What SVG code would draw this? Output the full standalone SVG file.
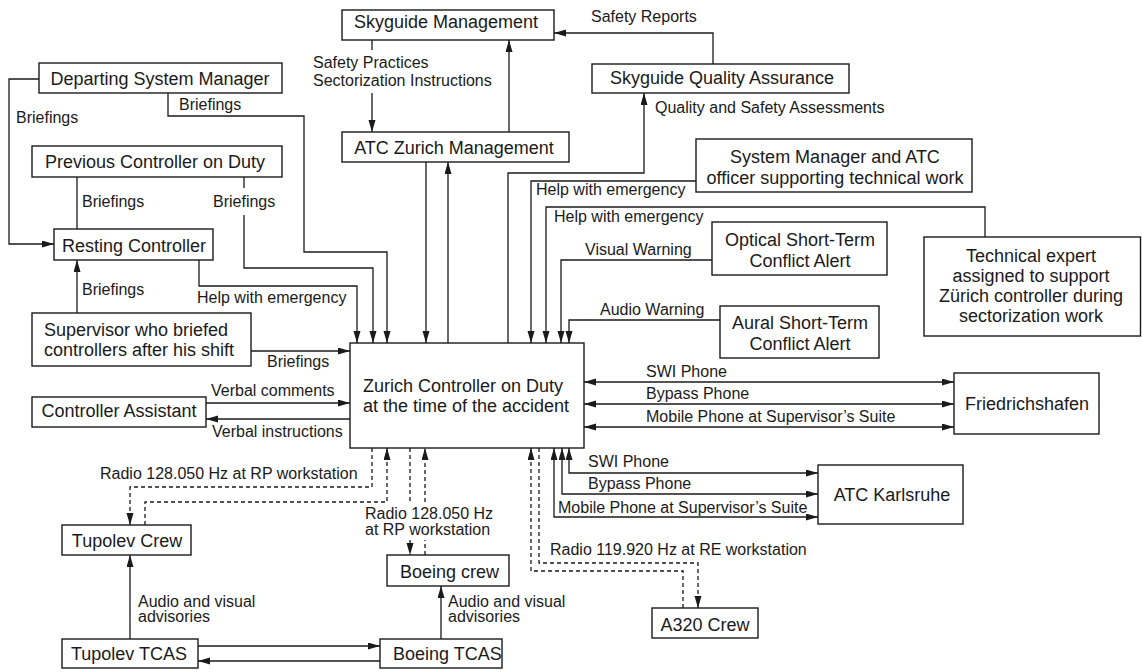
<svg xmlns="http://www.w3.org/2000/svg" width="1142" height="672" viewBox="0 0 1142 672">
<style>
.box{fill:#fff;stroke:#1a1a1a;stroke-width:1.4}
.nt{font-family:"Liberation Sans",Arial,sans-serif;font-size:18px;fill:#1a1a1a}
.lb{font-family:"Liberation Sans",Arial,sans-serif;font-size:16px;fill:#1a1a1a}
.c{text-anchor:middle}
.ln{fill:none;stroke:#1a1a1a;stroke-width:1.3}
.dash{stroke-dasharray:4 3}
.a{marker-end:url(#ah)}
.b{marker-start:url(#ah);marker-end:url(#ah)}
</style>
<defs>
<marker id="ah" markerUnits="userSpaceOnUse" markerWidth="13" markerHeight="8" refX="12" refY="3.5" orient="auto-start-reverse">
<path d="M0,0 L12,3.5 L0,7 z" fill="#1a1a1a"/>
</marker>
</defs>
<rect width="1142" height="672" fill="#fff"/>

<g id="connectors">
<path class="ln a" d="M39,79 H9 V244 H54"/>
<path class="ln a" d="M168,93 V116 H304 V252 H387 V343"/>
<path class="ln" d="M77,177 V229"/>
<path class="ln" d="M244,177 V188"/>
<path class="ln a" d="M244,215 V268 H373 V343"/>
<path class="ln a" d="M199,260 V286 H357 V343"/>
<path class="ln a" d="M77,313 V260"/>
<path class="ln a" d="M251,351 H350"/>
<path class="ln a" d="M206,403 H350"/>
<path class="ln a" d="M350,419 H206"/>
<path class="ln" d="M372,40 V50"/>
<path class="ln a" d="M372,93 V132"/>
<path class="ln a" d="M509,132 V40"/>
<path class="ln a" d="M426,162 V343"/>
<path class="ln a" d="M448,343 V162"/>
<path class="ln a" d="M508,343 V173 H644 V93"/>
<path class="ln a" d="M713,64 V33 H554"/>
<path class="ln a" d="M696,181 H531 V343"/>
<path class="ln a" d="M985,238 V207 H546 V343"/>
<path class="ln a" d="M712,260 H561 V343"/>
<path class="ln a" d="M720,320 H569 V343"/>
<path class="ln b" d="M584,382 H954"/>
<path class="ln b" d="M584,404 H954"/>
<path class="ln b" d="M584,427 H954"/>
<path class="ln b" d="M569,448 V473 H818"/>
<path class="ln b" d="M562,448 V494 H818"/>
<path class="ln b" d="M554,448 V517 H818"/>
<path class="ln dash a" d="M372,448 V487 H130 V525"/>
<path class="ln dash a" d="M145,525 V502 H387 V448"/>
<path class="ln dash" d="M410,448 V502"/>
<path class="ln dash a" d="M410,540 V555"/>
<path class="ln dash" d="M425,555 V540"/>
<path class="ln dash a" d="M425,502 V448"/>
<path class="ln dash a" d="M683,608 V571 H531 V448"/>
<path class="ln dash a" d="M539,448 V563 H698 V608"/>
<path class="ln a" d="M130,639 V555"/>
<path class="ln a" d="M441,639 V586"/>
<path class="ln a" d="M198,646 H380"/>
<path class="ln a" d="M380,661 H198"/>
</g>

<g id="labels">
<text class="lb" x="16" y="123">Briefings</text>
<text class="lb" x="179" y="110">Briefings</text>
<text class="lb" x="82" y="207">Briefings</text>
<text class="lb" x="213" y="207">Briefings</text>
<text class="lb" x="197" y="303">Help with emergency</text>
<text class="lb" x="82" y="295">Briefings</text>
<text class="lb" x="267" y="367">Briefings</text>
<text class="lb" x="211" y="396">Verbal comments</text>
<text class="lb" x="212" y="437">Verbal instructions</text>
<text class="lb" x="313" y="68">Safety Practices</text>
<text class="lb" x="313" y="86">Sectorization Instructions</text>
<text class="lb" x="591" y="22">Safety Reports</text>
<text class="lb" x="655" y="113">Quality and Safety Assessments</text>
<text class="lb" x="536" y="195">Help with emergency</text>
<text class="lb" x="554" y="222">Help with emergency</text>
<text class="lb" x="585" y="255">Visual Warning</text>
<text class="lb" x="600" y="315">Audio Warning</text>
<text class="lb" x="646" y="377">SWI Phone</text>
<text class="lb" x="646" y="399">Bypass Phone</text>
<text class="lb" x="646" y="422">Mobile Phone at Supervisor’s Suite</text>
<text class="lb" x="588" y="467">SWI Phone</text>
<text class="lb" x="588" y="489">Bypass Phone</text>
<text class="lb" x="558" y="513">Mobile Phone at Supervisor’s Suite</text>
<text class="lb" x="100" y="479">Radio 128.050 Hz at RP workstation</text>
<text class="lb" x="365" y="519">Radio 128.050 Hz</text>
<text class="lb" x="365" y="535">at RP workstation</text>
<text class="lb" x="550" y="555">Radio 119.920 Hz at RE workstation</text>
<text class="lb" x="138" y="607">Audio and visual</text>
<text class="lb" x="138" y="622">advisories</text>
<text class="lb" x="448" y="607">Audio and visual</text>
<text class="lb" x="448" y="622">advisories</text>
</g>

<g id="skyguide-management"><rect class="box" x="342" y="10" width="212" height="30"/><text class="nt c" x="446" y="28">Skyguide Management</text></g>
<g id="skyguide-qa"><rect class="box" x="592" y="64" width="257" height="29"/><text class="nt c" x="722" y="84">Skyguide Quality Assurance</text></g>
<g id="atc-zurich-management"><rect class="box" x="342" y="132" width="227" height="30"/><text class="nt c" x="454" y="154">ATC Zurich Management</text></g>
<g id="departing-system-manager"><rect class="box" x="39" y="63" width="243" height="30"/><text class="nt c" x="160" y="85">Departing System Manager</text></g>
<g id="previous-controller"><rect class="box" x="32" y="146" width="250" height="31"/><text class="nt c" x="155" y="168">Previous Controller on Duty</text></g>
<g id="resting-controller"><rect class="box" x="54" y="229" width="159" height="31"/><text class="nt c" x="134" y="252">Resting Controller</text></g>
<g id="supervisor"><rect class="box" x="32" y="313" width="219" height="53"/><text class="nt" x="44" y="336">Supervisor who briefed</text><text class="nt" x="44" y="356">controllers after his shift</text></g>
<g id="controller-assistant"><rect class="box" x="32" y="397" width="174" height="30"/><text class="nt c" x="119" y="417">Controller Assistant</text></g>
<g id="zurich-controller"><rect class="box" x="350" y="343" width="234" height="105"/><text class="nt" x="363" y="392">Zurich Controller on Duty</text><text class="nt" x="363" y="412">at the time of the accident</text></g>
<g id="system-manager-atc"><rect class="box" x="696" y="139" width="276" height="53"/><text class="nt c" x="835" y="163">System Manager and ATC</text><text class="nt c" x="835" y="184">officer supporting technical work</text></g>
<g id="optical-stca"><rect class="box" x="712" y="222" width="175" height="53"/><text class="nt c" x="800" y="246">Optical Short-Term</text><text class="nt c" x="800" y="267">Conflict Alert</text></g>
<g id="aural-stca"><rect class="box" x="720" y="306" width="159" height="52"/><text class="nt c" x="800" y="329">Aural Short-Term</text><text class="nt c" x="800" y="350">Conflict Alert</text></g>
<g id="technical-expert"><rect class="box" x="924" y="237" width="216.5" height="99"/><text class="nt c" x="1031" y="262">Technical expert</text><text class="nt c" x="1031" y="282">assigned to support</text><text class="nt c" x="1031" y="302">Zürich controller during</text><text class="nt c" x="1031" y="322">sectorization work</text></g>
<g id="friedrichshafen"><rect class="box" x="954" y="373" width="145" height="61"/><text class="nt c" x="1027" y="410">Friedrichshafen</text></g>
<g id="atc-karlsruhe"><rect class="box" x="818" y="465" width="145" height="59"/><text class="nt c" x="892" y="501">ATC Karlsruhe</text></g>
<g id="tupolev-crew"><rect class="box" x="62" y="525" width="129" height="30"/><text class="nt c" x="127" y="547">Tupolev Crew</text></g>
<g id="boeing-crew"><rect class="box" x="387" y="555" width="122" height="31"/><text class="nt" x="400" y="578">Boeing crew</text></g>
<g id="a320-crew"><rect class="box" x="652" y="608" width="106" height="30"/><text class="nt c" x="705" y="631">A320 Crew</text></g>
<g id="tupolev-tcas"><rect class="box" x="62" y="639" width="136" height="29"/><text class="nt c" x="129" y="660">Tupolev TCAS</text></g>
<g id="boeing-tcas"><rect class="box" x="380" y="639" width="122" height="29"/><text class="nt" x="393" y="660">Boeing TCAS</text></g>
</svg>
